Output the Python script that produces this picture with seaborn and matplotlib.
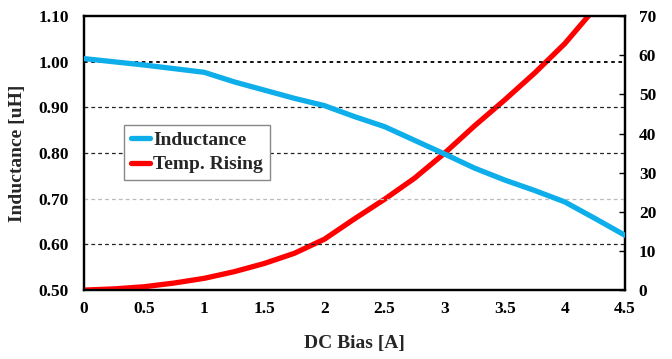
import matplotlib
matplotlib.use("Agg")
import matplotlib.pyplot as plt
import seaborn as sns
import pandas as pd
from matplotlib.lines import Line2D

sns.set_theme(style="white")
plt.rcParams["font.family"] = ["Liberation Serif", "DejaVu Serif"]
plt.rcParams["font.weight"] = "bold"

# DC bias sweep [A]
dc_bias = [0, 0.25, 0.5, 0.75, 1.0, 1.25, 1.5, 1.75, 2.0, 2.25,
           2.5, 2.75, 3.0, 3.25, 3.5, 3.75, 4.0, 4.25, 4.5]
# Inductance [uH]
inductance = [1.007, 1.0, 0.993, 0.985, 0.977, 0.956, 0.938, 0.920, 0.904, 0.880,
              0.858, 0.828, 0.798, 0.767, 0.741, 0.718, 0.693, 0.657, 0.620]
# Temperature rise [deg C]
temp_rise = [0.0, 0.3, 0.85, 1.8, 3.0, 4.7, 6.8, 9.4, 13.0, 18.2,
             23.2, 28.6, 35.0, 42.0, 48.6, 55.5, 63.0, 72.0, 81.0]

x_ticks = [0, 0.5, 1, 1.5, 2, 2.5, 3, 3.5, 4, 4.5]
x_tick_labels = ["0", "0.5", "1", "1.5", "2", "2.5", "3", "3.5", "4", "4.5"]
left_ticks = [0.50, 0.60, 0.70, 0.80, 0.90, 1.00, 1.10]
right_ticks = [0, 10, 20, 30, 40, 50, 60, 70]

df = pd.DataFrame({"bias": dc_bias, "L": inductance, "T": temp_rise})

fig = plt.figure(figsize=(6.72, 3.59), dpi=100)
ax = fig.add_axes([0.125, 0.192, 0.805, 0.763])
ax2 = ax.twinx()

blue = "#0EAEEA"
red = "#FF0000"

# horizontal reference lines at the inductance ticks
for v in [0.60, 0.80, 0.90]:
    ax.axhline(v, color="#222222", lw=0.9, ls=(0, (3, 2.5)), zorder=1)
ax.axhline(1.00, color="black", lw=1.3, ls=(0, (2, 2)), zorder=1)
ax.axhline(0.70, color="#BBBBBB", lw=0.9, ls=(0, (3, 2.5)), zorder=1)

sns.lineplot(data=df, x="bias", y="L", ax=ax, color=blue, lw=3.8, zorder=3)
sns.lineplot(data=df, x="bias", y="T", ax=ax2, color=red, lw=3.8, zorder=3)

ax.set_xlim(0, 4.5)
ax.set_ylim(0.5, 1.1)
ax2.set_ylim(0, 70)
ax.set_xticks(x_ticks)
ax.set_xticklabels(x_tick_labels)
ax.set_yticks(left_ticks)
ax.set_yticklabels([f"{v:.2f}" for v in left_ticks])
ax2.set_yticks(right_ticks)

ax.set_xlabel("DC Bias [A]", fontsize=14, fontweight="bold", labelpad=13)
ax.set_ylabel("Inductance [uH]", fontsize=14, fontweight="bold", labelpad=9)
ax2.set_ylabel("")

for a in (ax, ax2):
    for s in a.spines.values():
        s.set_color("black")
        s.set_linewidth(1.6)
    a.tick_params(labelsize=12.5, colors="black")
    for lab in a.get_xticklabels() + a.get_yticklabels():
        lab.set_fontweight("bold")

ax.tick_params(axis="x", direction="in", length=4, width=1, pad=8)
ax.tick_params(axis="y", length=0, pad=11)
ax2.tick_params(axis="y", direction="in", length=4, width=1, pad=10)

# lines above the second axes
ax.set_zorder(ax2.get_zorder() + 1)
ax.patch.set_visible(False)

handles = [Line2D([], [], color=blue, lw=3.8), Line2D([], [], color=red, lw=3.8)]
leg = ax.legend(handles, ["Inductance", "Temp. Rising"], loc="upper left",
                bbox_to_anchor=(0.074, 0.604), fancybox=False, framealpha=1,
                edgecolor="#888888", handlelength=1.0, handletextpad=0.15,
                borderpad=0.35, labelspacing=0.35, borderaxespad=0,
                prop={"family": "Liberation Serif", "weight": "bold", "size": 14})
leg.get_frame().set_linewidth(1.0)

fig.savefig("out.png", dpi=100)
